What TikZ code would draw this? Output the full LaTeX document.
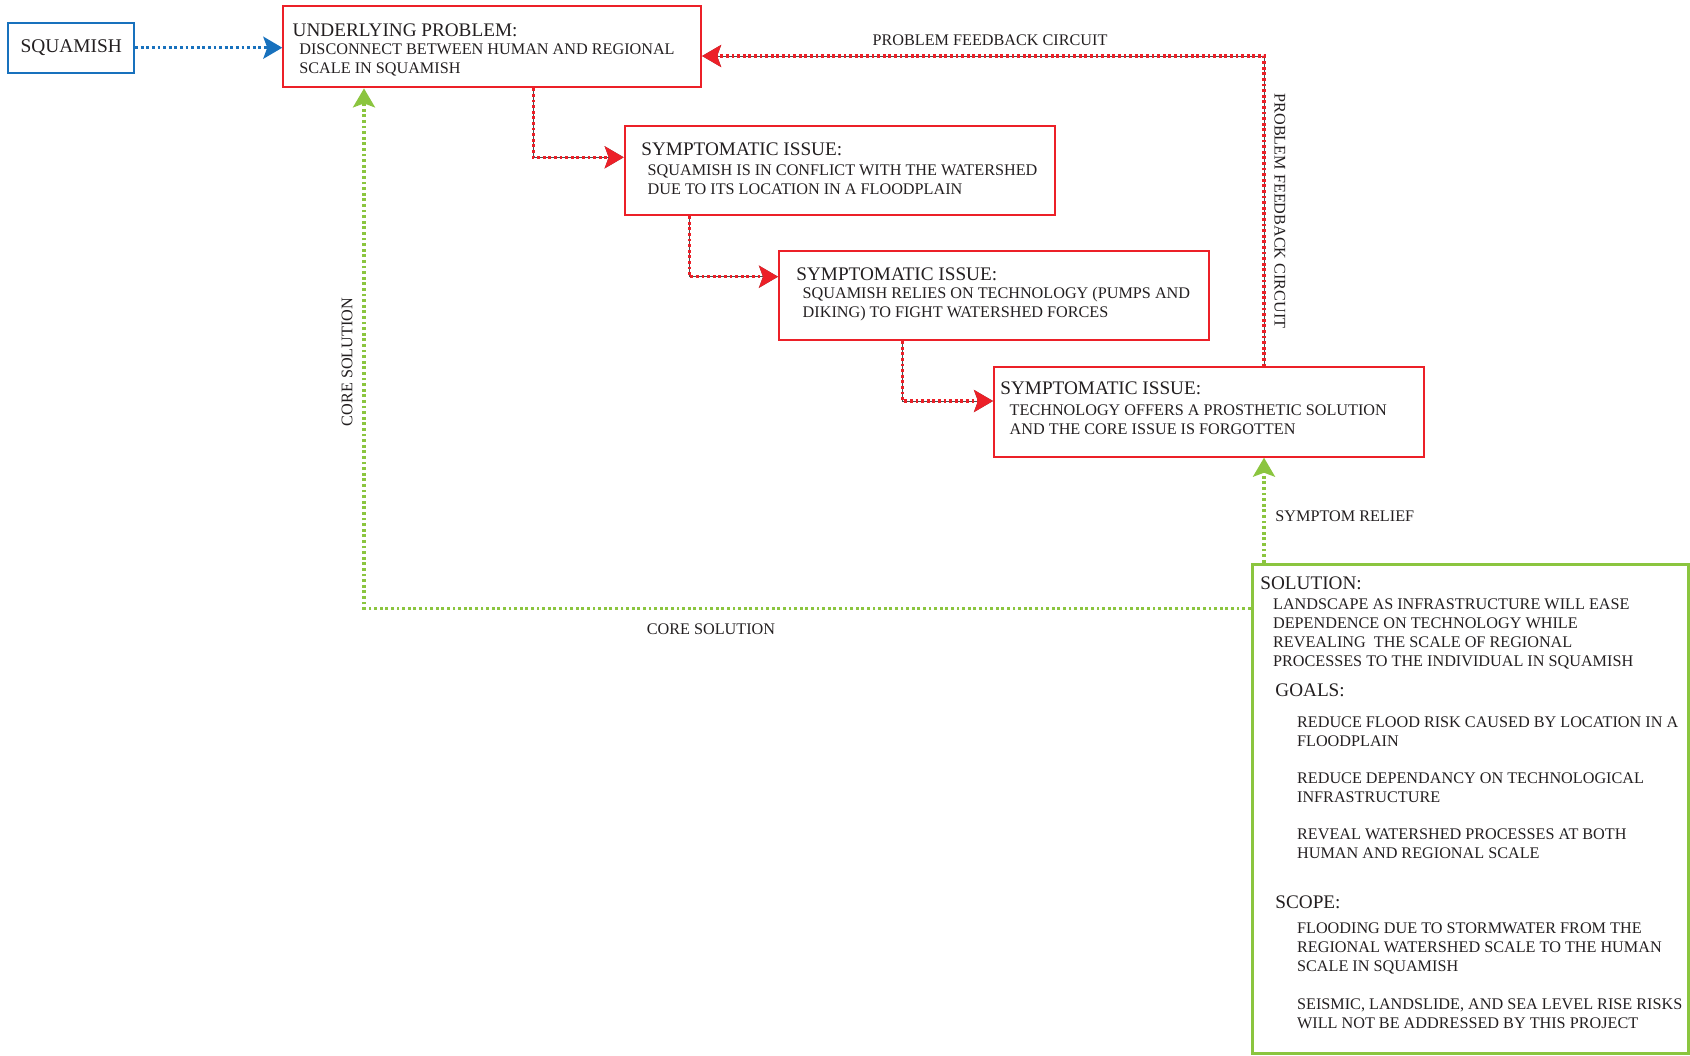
\documentclass[tikz,border=0pt]{standalone}
\usepackage{fontspec}
\setmainfont{Liberation Serif}
\usetikzlibrary{arrows.meta}
\definecolor{sqblue}{RGB}{24,113,189}
\definecolor{pbred}{RGB}{236,32,40}
\definecolor{slgreen}{RGB}{139,197,63}
\definecolor{txtgray}{RGB}{35,31,32}

\begin{document}
\begin{tikzpicture}[x=0.5pt,y=-0.5pt,line join=miter,
	tip/.style={-{Stealth[length=9.5pt,width=11pt,inset=2pt]}},
	redbox/.style={draw=pbred,line width=1pt,minimum width=215pt,minimum height=44.7pt,inner sep=0pt},
	ttl/.style={anchor=north west,inner sep=0pt,text=txtgray,font=\fontsize{9.6}{11}\selectfont},
	bdy/.style={anchor=north west,inner sep=0pt,align=left,text=txtgray,font=\fontsize{8.1}{9.5}\selectfont},
	lbl/.style={inner sep=0pt,text=txtgray,font=\fontsize{8.1}{9}\selectfont},
	dotline/.style={tip,line width=1.6pt,dash pattern=on 1.4pt off 1.4pt},
	redline/.style={dotline,draw=pbred,preaction={draw=black!70,line width=0.5pt,solid}},
	greenline/.style={dotline,draw=slgreen},
	blueline/.style={dotline,draw=sqblue}]
	\useasboundingbox (0,0) rectangle (1690,1055);
	% boxes
	\node[draw=sqblue,line width=1pt,minimum width=62.9pt,minimum height=25pt,inner sep=0pt,text=txtgray,font=\fontsize{9.7}{11}\selectfont] (sq) at (71.2,47.7) {SQUAMISH};
	\node[redbox,minimum width=208.9pt,minimum height=40.7pt] (under) at (492.2,46.7) {};
	\node[redbox] (sym1) at (839.7,170.4) {};
	\node[redbox] (sym2) at (994,295.4) {};
	\node[redbox] (sym3) at (1209,412) {};
	\node[draw=slgreen,line width=1.5pt,minimum width=218pt,minimum height=244.5pt,inner sep=0pt] (sol) at (1470,808.5) {};
	% texts
	\node[ttl] (underT) at (292.3,23) {UNDERLYING PROBLEM:};
	\node[bdy] (underB) at (299,42.9) {DISCONNECT BETWEEN HUMAN AND REGIONAL\\SCALE IN SQUAMISH};
	\node[ttl] (sym1T) at (641,142) {SYMPTOMATIC ISSUE:};
	\node[bdy] (sym1B) at (647.3,163.9) {SQUAMISH IS IN CONFLICT WITH THE WATERSHED\\DUE TO ITS LOCATION IN A FLOODPLAIN};
	\node[ttl] (sym2T) at (796,267) {SYMPTOMATIC ISSUE:};
	\node[bdy] (sym2B) at (802.3,287) {SQUAMISH RELIES ON TECHNOLOGY (PUMPS AND\\DIKING) TO FIGHT WATERSHED FORCES};
	\node[ttl] (sym3T) at (1000,381) {SYMPTOMATIC ISSUE:};
	\node[bdy] (sym3B) at (1009.3,403.9) {TECHNOLOGY OFFERS A PROSTHETIC SOLUTION\\AND THE CORE ISSUE IS FORGOTTEN};
	\node[ttl] (solT) at (1260,576.4) {SOLUTION:};
	\node[bdy] (solB) at (1272.7,598.6) {LANDSCAPE AS INFRASTRUCTURE WILL EASE\\DEPENDENCE ON TECHNOLOGY WHILE\\REVEALING\ \ THE SCALE OF REGIONAL\\PROCESSES TO THE INDIVIDUAL IN SQUAMISH};
	\node[ttl] (goals) at (1275,683.7) {GOALS:};
	\node[bdy] (g1) at (1296.7,716.3) {REDUCE FLOOD RISK CAUSED BY LOCATION IN A\\FLOODPLAIN};
	\node[bdy] (g2) at (1296.7,772.3) {REDUCE DEPENDANCY ON TECHNOLOGICAL\\INFRASTRUCTURE};
	\node[bdy] (g3) at (1296.7,828.6) {REVEAL WATERSHED PROCESSES AT BOTH\\HUMAN AND REGIONAL SCALE};
	\node[ttl] (scope) at (1275,895.4) {SCOPE:};
	\node[bdy] (s1) at (1296.7,922.3) {FLOODING DUE TO STORMWATER FROM THE\\REGIONAL WATERSHED SCALE TO THE HUMAN\\SCALE IN SQUAMISH};
	\node[bdy] (s2) at (1296.7,997.9) {SEISMIC, LANDSLIDE, AND SEA LEVEL RISE RISKS\\WILL NOT BE ADDRESSED BY THIS PROJECT};
	% connector labels
	\node[lbl] (fbH) at (990,40) {PROBLEM FEEDBACK CIRCUIT};
	\node[lbl,rotate=-90] (fbV) at (1280,211) {PROBLEM FEEDBACK CIRCUIT};
	\node[lbl,anchor=west] (relief) at (1275,516) {SYMPTOM RELIEF};
	\node[lbl] (coreH) at (711,629) {CORE SOLUTION};
	\node[lbl,rotate=90] (coreV) at (347,362) {CORE SOLUTION};
	% connectors
	\coordinate (k1) at (533.3,157.3);
	\coordinate (k2) at (689.3,276.7);
	\coordinate (k3) at (902.7,401);
	\coordinate (k4) at (1264,56);
	\coordinate (k5) at (364,608.3);
	\draw[blueline] (sq.east) -- (sq.east -| under.west);
	\draw[redline] (under.south -| k1) |- (sym1.west |- k1);
	\draw[redline] (sym1.south -| k2) |- (sym2.west |- k2);
	\draw[redline] (sym2.south -| k3) |- (sym3.west |- k3);
	\draw[redline] (sym3.north -| k4) |- (under.east |- k4);
	\draw[greenline] (sol.north -| k4) -- (sym3.south -| k4);
	\draw[greenline] (sol.west |- k5) -| (under.south -| k5);
\end{tikzpicture}
\end{document}
